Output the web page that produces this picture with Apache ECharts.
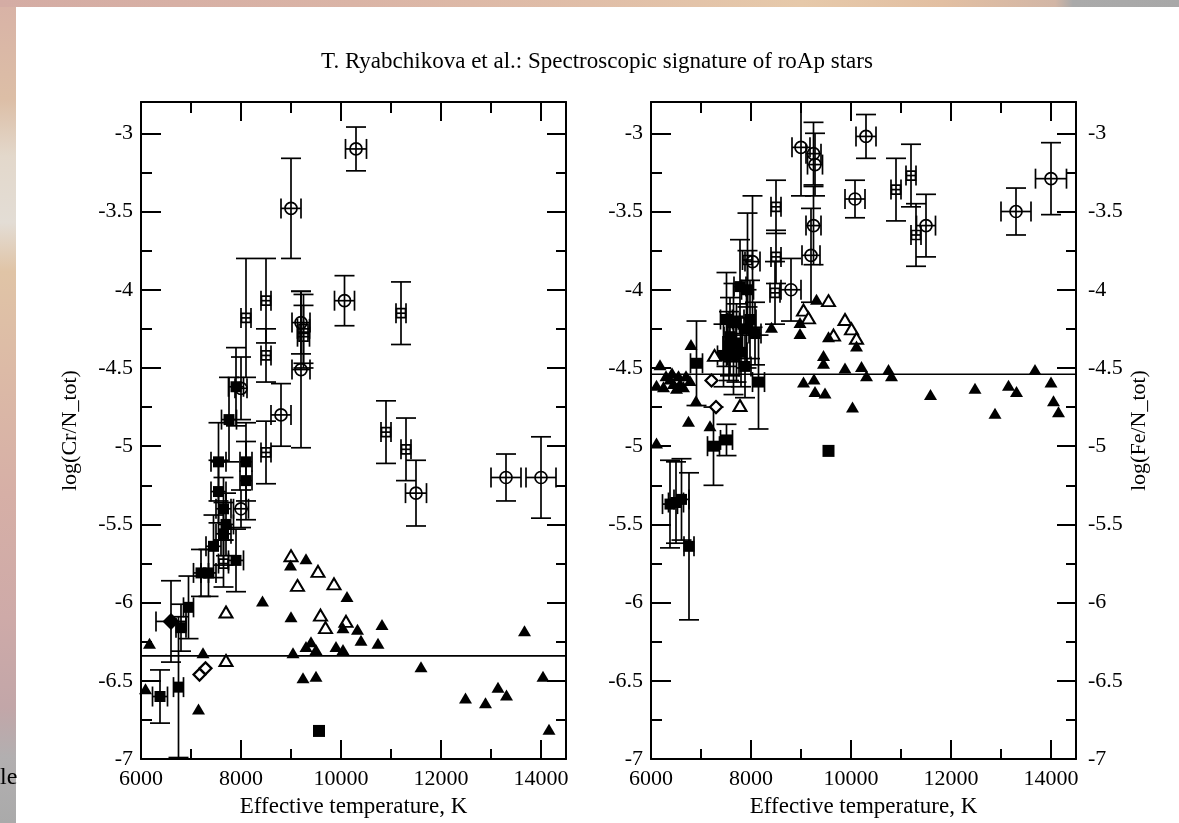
<!DOCTYPE html>
<html>
<head>
<meta charset="utf-8">
<script src="https://cdn.jsdelivr.net/npm/echarts@6/dist/echarts.min.js"></script>
<style>
  html, body { margin: 0; padding: 0; background: #fff; }
  #chart { width: 1179px; height: 823px; }
</style>
</head>
<body>
<div id="chart"></div>
<script>
// ---- Axis ticks ----
const tempMajor = [6000, 8000, 10000, 12000, 14000];
const tempMinor = [7000, 9000, 11000, 13000];
const abundMajor = [-7, -6.5, -6, -5.5, -5, -4.5, -4, -3.5, -3];
const abundMinor = [-6.75, -6.25, -5.75, -5.25, -4.75, -4.25, -3.75, -3.25];
const tempRange = [6000, 14500];
const abundRange = [-7, -2.8];

// ---- Cr panel: [Teff, log(Cr/N), dTeff, dlog] ----
const crOpenCircle = [
  [10300, -3.10, 210, 0.14], [9000, -3.48, 200, 0.32], [10070, -4.07, 200, 0.16],
  [9200, -4.51, 180, 0.50], [8800, -4.80, 200, 0.20], [11500, -5.30, 210, 0.21],
  [13300, -5.20, 300, 0.15], [14000, -5.20, 300, 0.26], [8000, -5.40, 150, 0.12],
  [9200, -4.21, 180, 0.20], [8000, -4.63, 120, 0.20]
];
const crOpenSquare = [
  [11200, -4.15, 100, 0.20], [8100, -4.18, 100, 0.38], [8500, -4.07, 100, 0.27],
  [8500, -4.42, 100, 0.17], [9250, -4.25, 120, 0.22], [9250, -4.30, 120, 0.20],
  [10900, -4.91, 100, 0.20], [11300, -5.02, 100, 0.20], [8500, -5.04, 100, 0.20],
  [7650, -5.75, 100, 0.15]
];
const crFilled = [
  [7900, -4.62, 150, 0.25], [7760, -4.83, 150, 0.27], [7550, -5.10, 150, 0.25],
  [8100, -5.10, 120, 0.25], [8100, -5.22, 120, 0.25], [7550, -5.29, 150, 0.20],
  [7650, -5.40, 150, 0.20], [7700, -5.50, 150, 0.20], [7650, -5.56, 150, 0.20],
  [7450, -5.64, 150, 0.20], [7900, -5.73, 150, 0.20], [7200, -5.81, 150, 0.15],
  [7350, -5.81, 150, 0.15], [6950, -6.03, 100, 0.20], [6800, -6.16, 100, 0.15],
  [6750, -6.54, 100, 0.45], [6380, -6.60, 150, 0.17]
];
const crFilledDiamond = [[6600, -6.12, 300, 0.26]];
const crOpenDiamond = [[7170, -6.46], [7290, -6.42]];
const crOpenTriangle = [
  [9000, -5.70], [9540, -5.80], [9130, -5.89], [9860, -5.88], [9590, -6.08],
  [9690, -6.16], [10100, -6.12], [7700, -6.06], [7700, -6.37]
];
const crFilledTriangle = [
  [8430, -5.99], [9000, -6.09], [8990, -5.76], [9300, -5.72], [10120, -5.96],
  [10820, -6.14], [10740, -6.26], [10400, -6.24], [10040, -6.16], [10330, -6.17],
  [9900, -6.28], [10040, -6.30], [9400, -6.25], [9300, -6.28], [9500, -6.30],
  [9040, -6.32], [9240, -6.48], [9500, -6.47], [11600, -6.41], [13670, -6.18],
  [14040, -6.47], [12490, -6.61], [12890, -6.64], [13140, -6.54], [13310, -6.59],
  [14160, -6.81], [7240, -6.32], [7150, -6.68], [6170, -6.26], [6090, -6.55]
];
const crFilledSquare = [[9560, -6.82]];
const crSolar = -6.34;

// ---- Fe panel: [Teff, log(Fe/N), dTeff, dlog] ----
const feOpenCircle = [
  [10300, -3.02, 200, 0.14], [9000, -3.09, 180, 0.31], [9250, -3.13, 150, 0.20],
  [9280, -3.20, 150, 0.20], [10080, -3.42, 200, 0.12], [11500, -3.59, 190, 0.20],
  [13300, -3.50, 300, 0.15], [14000, -3.29, 310, 0.23], [8800, -4.00, 200, 0.20],
  [9250, -3.59, 150, 0.25], [9200, -3.78, 180, 0.30], [8030, -3.82, 150, 0.42]
];
const feOpenSquare = [
  [10900, -3.36, 100, 0.20], [11200, -3.27, 100, 0.20], [11300, -3.65, 100, 0.20],
  [8500, -3.47, 100, 0.17], [8500, -3.79, 100, 0.17], [8480, -4.02, 100, 0.20],
  [7930, -3.81, 100, 0.30]
];
const feFilled = [
  [7780, -3.98, 120, 0.30], [7930, -4.00, 120, 0.25], [7510, -4.19, 120, 0.30],
  [7650, -4.21, 120, 0.25], [7580, -4.30, 120, 0.25], [7710, -4.34, 120, 0.25],
  [7980, -4.19, 120, 0.25], [8080, -4.28, 120, 0.20], [7910, -4.25, 120, 0.25],
  [7450, -4.42, 120, 0.20], [7650, -4.42, 120, 0.25], [7880, -4.49, 120, 0.20],
  [7560, -4.36, 120, 0.22], [7800, -4.40, 120, 0.22],
  [6910, -4.47, 120, 0.27], [8150, -4.59, 120, 0.30], [7250, -5.00, 120, 0.25],
  [7510, -4.96, 120, 0.10], [6380, -5.37, 150, 0.28], [6500, -5.36, 150, 0.26],
  [6610, -5.34, 150, 0.26], [6760, -5.64, 100, 0.47]
];
const feOpenDiamond = [[7210, -4.58], [7300, -4.75]];
const feOpenTriangle = [
  [9550, -4.07], [9050, -4.13], [9150, -4.18], [9880, -4.19], [10010, -4.25],
  [10110, -4.31], [9650, -4.29], [7270, -4.42], [7780, -4.74]
];
const feFilledTriangle = [
  [6110, -4.61], [6180, -4.48], [6380, -4.57], [6550, -4.55], [6650, -4.62],
  [6780, -4.58], [6510, -4.63], [6800, -4.35], [6750, -4.84], [6900, -4.71],
  [7180, -4.87], [6110, -4.98], [9450, -4.42], [9450, -4.47], [9880, -4.50],
  [10210, -4.49], [10310, -4.55], [10750, -4.51], [10810, -4.55], [11590, -4.67],
  [12480, -4.63], [12880, -4.79], [13150, -4.61], [13310, -4.65], [13680, -4.51],
  [14000, -4.59], [14050, -4.71], [14150, -4.78], [9050, -4.59], [9260, -4.57],
  [9280, -4.65], [9480, -4.66], [10030, -4.75], [8980, -4.21], [8980, -4.28],
  [8410, -4.24], [9310, -4.06], [9550, -4.30], [10110, -4.36], [6300, -4.55],
  [6450, -4.60], [6250, -4.62], [6420, -4.53], [6700, -4.55], [6580, -4.60]
];
const feFilledSquare = [[9550, -5.03]];
const feSolar = -4.54;

// ---- Styling ----
const FONT = 'Liberation Serif';
const INK = '#000';
const plainNumber = v => String(v);

const grids = [
  { left: 141, top: 102, width: 425, height: 658 },
  { left: 651, top: 102, width: 425, height: 658 }
];

function xAxesFor(g) {
  const base = { gridIndex: g, type: 'value', min: tempRange[0], max: tempRange[1],
    splitLine: { show: false }, silent: true };
  return [
    Object.assign({}, base, {
      position: 'bottom',
      axisLine: { show: true, lineStyle: { color: INK, width: 2 } },
      axisTick: { show: true, inside: true, length: 19, customValues: tempMajor, lineStyle: { color: INK, width: 2 } },
      axisLabel: { show: true, customValues: tempMajor, formatter: plainNumber, margin: 9, color: INK, fontFamily: FONT, fontSize: 22 },
      name: 'Effective temperature, K', nameLocation: 'middle', nameGap: 25,
      nameTextStyle: { color: INK, fontFamily: FONT, fontSize: 23 }
    }),
    Object.assign({}, base, {
      position: 'bottom',
      axisLine: { show: false },
      axisTick: { show: true, inside: true, length: 10, customValues: tempMinor, lineStyle: { color: INK, width: 2 } },
      axisLabel: { show: false }
    }),
    Object.assign({}, base, {
      position: 'top',
      axisLine: { show: true, lineStyle: { color: INK, width: 2 } },
      axisTick: { show: true, inside: true, length: 19, customValues: tempMajor, lineStyle: { color: INK, width: 2 } },
      axisLabel: { show: false }
    }),
    Object.assign({}, base, {
      position: 'top',
      axisLine: { show: false },
      axisTick: { show: true, inside: true, length: 11, customValues: tempMinor, lineStyle: { color: INK, width: 2 } },
      axisLabel: { show: false }
    })
  ];
}

function yAxesFor(g, leftName, rightName, rightLabels) {
  const base = { gridIndex: g, type: 'value', min: abundRange[0], max: abundRange[1],
    splitLine: { show: false }, silent: true };
  const label = { show: true, customValues: abundMajor, formatter: plainNumber, margin: 8, color: INK, fontFamily: FONT, fontSize: 22 };
  const nameStyle = { color: INK, fontFamily: FONT, fontSize: 22 };
  const left = Object.assign({}, base, {
    position: 'left',
    axisLine: { show: true, lineStyle: { color: INK, width: 2 } },
    axisTick: { show: true, inside: true, length: 20, customValues: abundMajor, lineStyle: { color: INK, width: 2 } },
    axisLabel: label
  });
  if (leftName) {
    Object.assign(left, { name: leftName, nameLocation: 'middle', nameGap: 60, nameRotate: 90, nameTextStyle: nameStyle });
  }
  const right = Object.assign({}, base, {
    position: 'right',
    axisLine: { show: true, lineStyle: { color: INK, width: 2 } },
    axisTick: { show: true, inside: true, length: 19, customValues: abundMajor, lineStyle: { color: INK, width: 2 } },
    axisLabel: rightLabels ? Object.assign({}, label, { margin: 12 }) : { show: false }
  });
  if (rightName) {
    Object.assign(right, { name: rightName, nameLocation: 'middle', nameGap: 52, nameRotate: 90, nameTextStyle: nameStyle });
  }
  return [
    left,
    Object.assign({}, base, {
      position: 'left', axisLine: { show: false },
      axisTick: { show: true, inside: true, length: 11, customValues: abundMinor, lineStyle: { color: INK, width: 2 } },
      axisLabel: { show: false }
    }),
    right,
    Object.assign({}, base, {
      position: 'right', axisLine: { show: false },
      axisTick: { show: true, inside: true, length: 10, customValues: abundMinor, lineStyle: { color: INK, width: 2 } },
      axisLabel: { show: false }
    })
  ];
}

// Error bars: vertical and horizontal whiskers with end caps, kept inside the frame
function renderErrorBar(params, api) {
  const T = api.value(0), v = api.value(1), dT = api.value(2), dv = api.value(3);
  const cs = params.coordSys;
  const cap = 10;
  const c = api.coord([T, v]);
  const yTop = api.coord([T, v + dv])[1];
  const yBot = api.coord([T, v - dv])[1];
  const xL = api.coord([T - dT, v])[0];
  const xR = api.coord([T + dT, v])[0];
  const y0 = Math.max(cs.y, yTop), y1 = Math.min(cs.y + cs.height, yBot);
  const x0 = Math.max(cs.x, xL), x1 = Math.min(cs.x + cs.width, xR);
  const style = { stroke: INK, lineWidth: 1.7, fill: null };
  const line = (a, b, c2, d) => ({ type: 'line', shape: { x1: a, y1: b, x2: c2, y2: d }, style: style });
  const kids = [
    line(c[0], y0, c[0], y1),
    line(x0, c[1], x1, c[1])
  ];
  if (yTop >= cs.y) kids.push(line(c[0] - cap, yTop, c[0] + cap, yTop));
  if (yBot <= cs.y + cs.height) kids.push(line(c[0] - cap, yBot, c[0] + cap, yBot));
  if (xL >= cs.x) kids.push(line(xL, c[1] - cap, xL, c[1] + cap));
  if (xR <= cs.x + cs.width) kids.push(line(xR, c[1] - cap, xR, c[1] + cap));
  return { type: 'group', children: kids };
}

function panelSeries(g, d) {
  const ax = { xAxisIndex: g * 4, yAxisIndex: g * 4 };
  const errData = [].concat(d.openCircle, d.openSquare, d.filled, d.filledDiamond);
  const sc = (data, symbol, size, fill, border) => Object.assign({
    type: 'scatter', data: data, symbol: symbol, symbolSize: size, silent: true,
    itemStyle: { color: fill, borderColor: INK, borderWidth: border, opacity: 1 },
    z: 4
  }, ax);
  return [
    Object.assign({
      type: 'line', data: [[tempRange[0], d.solar], [tempRange[1], d.solar]],
      symbol: 'none', lineStyle: { color: INK, width: 1.7 }, silent: true, z: 2
    }, ax),
    Object.assign({
      type: 'custom', data: errData, renderItem: renderErrorBar, silent: true, z: 3,
      encode: { x: 0, y: 1 }
    }, ax),
    sc(d.openCircle, 'circle', 12, 'rgba(255,255,255,0)', 1.7),
    sc(d.openSquare, 'rect', 9, 'rgba(255,255,255,0)', 1.7),
    sc(d.filled, 'rect', 11, INK, 0),
    sc(d.filledDiamond, 'diamond', 17, INK, 0),
    sc(d.openDiamond, 'diamond', 12, '#fff', 2.2),
    sc(d.openTriangle, 'triangle', [13, 11], '#fff', 2),
    sc(d.filledTriangle, 'triangle', [13, 11], INK, 0),
    sc(d.filledSquare, 'rect', 12, INK, 0)
  ];
}

const crPanel = {
  openCircle: crOpenCircle, openSquare: crOpenSquare, filled: crFilled,
  filledDiamond: crFilledDiamond, openDiamond: crOpenDiamond, openTriangle: crOpenTriangle,
  filledTriangle: crFilledTriangle, filledSquare: crFilledSquare, solar: crSolar
};
const fePanel = {
  openCircle: feOpenCircle, openSquare: feOpenSquare, filled: feFilled,
  filledDiamond: [], openDiamond: feOpenDiamond, openTriangle: feOpenTriangle,
  filledTriangle: feFilledTriangle, filledSquare: feFilledSquare, solar: feSolar
};

const chart = echarts.init(document.getElementById('chart'), null, { renderer: 'canvas' });
chart.setOption({
  animation: false,
  backgroundColor: '#fff',
  grid: grids,
  xAxis: [].concat(xAxesFor(0), xAxesFor(1)),
  yAxis: [].concat(yAxesFor(0, 'log(Cr/N_tot)', null, false), yAxesFor(1, null, 'log(Fe/N_tot)', true)),
  series: [].concat(panelSeries(0, crPanel), panelSeries(1, fePanel)),
  graphic: [
    // page margin strips
    { type: 'rect', left: 0, top: 0, shape: { width: 16, height: 823 }, silent: true,
      style: { fill: new echarts.graphic.LinearGradient(0, 0, 0, 1, [
        { offset: 0, color: '#d8b2a6' }, { offset: 0.12, color: '#dcbea6' },
        { offset: 0.19, color: '#e3d8cb' }, { offset: 0.27, color: '#e3ddd5' },
        { offset: 0.33, color: '#e0c4a6' }, { offset: 0.45, color: '#dcbaa6' },
        { offset: 0.6, color: '#d6afa6' }, { offset: 0.75, color: '#ceaaa8' },
        { offset: 0.86, color: '#c2a6a8' }, { offset: 0.92, color: '#b2afb0' },
        { offset: 1, color: '#aaaaaa' }]) } },
    { type: 'rect', left: 0, top: 0, shape: { width: 1179, height: 7 }, silent: true,
      style: { fill: new echarts.graphic.LinearGradient(0, 0, 1, 0, [
        { offset: 0, color: '#d4aca4' }, { offset: 0.3, color: '#dab4a6' },
        { offset: 0.5, color: '#e0bea8' }, { offset: 0.68, color: '#e6c9aa' },
        { offset: 0.8, color: '#e2bfa2' }, { offset: 0.895, color: '#d2b6a6' },
        { offset: 0.91, color: '#aaaaaa' }, { offset: 1, color: '#a8a8a8' }]) } },
    { type: 'text', left: 0, top: 766, silent: true,
      style: { text: 'le', fill: INK, font: '24px "Liberation Serif"' } },
    { type: 'text', x: 597, y: 62, silent: true,
      style: { text: 'T. Ryabchikova et al.: Spectroscopic signature of roAp stars',
        fill: INK, font: '23px "Liberation Serif"', align: 'center', verticalAlign: 'middle' } }
  ]
});
</script>
</body>
</html>
